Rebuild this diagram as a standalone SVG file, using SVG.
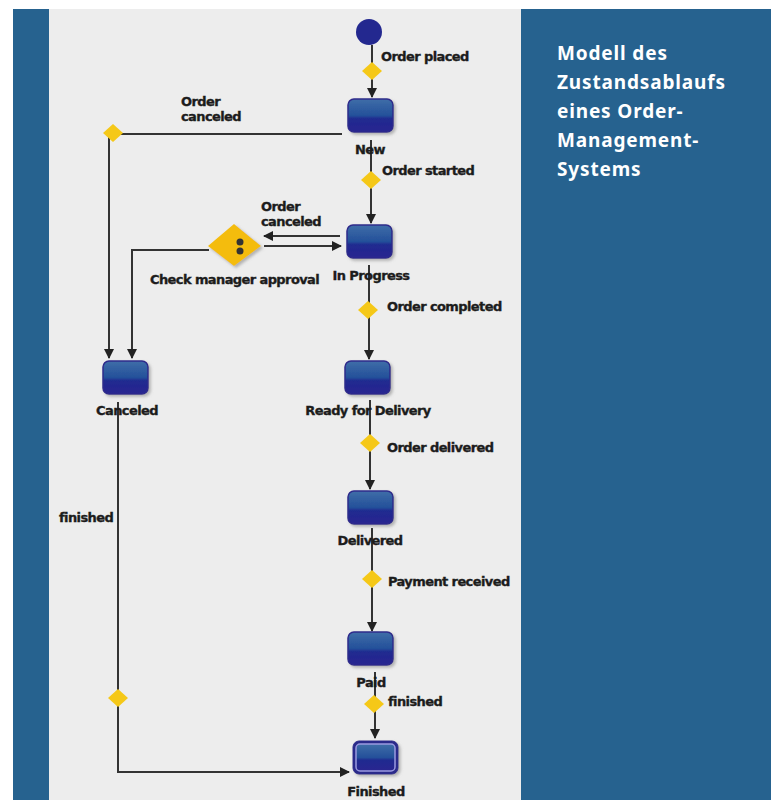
<svg xmlns="http://www.w3.org/2000/svg" width="771" height="800" viewBox="0 0 771 800">
<style>
.l{font:bold 13px "DejaVu Sans",sans-serif;fill:#1c1c1c;letter-spacing:-0.6px;stroke:#1c1c1c;stroke-width:.35px}
.m{text-anchor:middle}
.t{font:bold 19px "Noto Sans","Liberation Sans",sans-serif;fill:#fff;letter-spacing:.85px}
.c{fill:none;stroke:#333;stroke-width:2}
.d{fill:#f5c818}
.s{fill:url(#g);stroke:#2e2a8c;stroke-width:1.5;filter:url(#sh)}
</style>
<defs>
<linearGradient id="g" x1="0" y1="0" x2="0" y2="1"><stop offset="0" stop-color="#3f6ea8"/><stop offset=".5" stop-color="#24509a"/><stop offset=".6" stop-color="#1f2a90"/><stop offset="1" stop-color="#2a2590"/></linearGradient>
<filter id="sh" x="-20%" y="-20%" width="150%" height="150%"><feDropShadow dx="2" dy="2" stdDeviation="1.5" flood-color="#888" flood-opacity=".6"/></filter>
<marker id="a" markerWidth="10" markerHeight="10" refX="9" refY="5" orient="auto" markerUnits="userSpaceOnUse"><path d="M0 0L10 5L0 10Z" fill="#222"/></marker>
</defs>
<rect x="13" y="9" width="758" height="791" fill="#26628f"/>
<rect x="49" y="9" width="472" height="791" fill="#ededed"/>
<g id="connectors">
<path class="c" d="M372 45V97" marker-end="url(#a)"/>
<path class="c" d="M342 134H109V358" marker-end="url(#a)"/>
<path class="c" d="M371 140V223" marker-end="url(#a)"/>
<path class="c" d="M340 236H264" marker-end="url(#a)"/>
<path class="c" d="M264 246H341" marker-end="url(#a)"/>
<path class="c" d="M209 250H132V358" marker-end="url(#a)"/>
<path class="c" d="M369 265V359" marker-end="url(#a)"/>
<path class="c" d="M370 400V489" marker-end="url(#a)"/>
<path class="c" d="M372 528V631" marker-end="url(#a)"/>
<path class="c" d="M375 672V738" marker-end="url(#a)"/>
<path class="c" d="M118 402V772H349" marker-end="url(#a)"/>
<g class="d">
<path d="M372 62L382 71L372 80L362 71Z"/>
<path d="M113 124L123 133L113 142L103 133Z"/>
<path d="M371 171L381 180L371 189L361 180Z"/>
<path d="M368 301L378 310L368 319L358 310Z"/>
<path d="M370 434L380 443L370 452L360 443Z"/>
<path d="M372 570L382 579L372 588L362 579Z"/>
<path d="M374 695L384 704L374 713L364 704Z"/>
<path d="M118 689L128 698L118 707L108 698Z"/>
</g>
</g>
<g id="start"><circle cx="369" cy="32" r="13" fill="#23288f"/></g>
<g id="new"><rect class="s" x="348" y="99" width="45" height="33" rx="6"/><text class="l m" x="370" y="154">New</text></g>
<g id="inprogress"><rect class="s" x="347" y="225" width="45" height="33" rx="6"/><text class="l m" x="371" y="280">In Progress</text></g>
<g id="approval"><path d="M234 224L261 246L234 266L208 246Z" fill="#f4bc10" filter="url(#sh)"/><circle cx="240" cy="242" r="3.5" fill="#333"/><circle cx="240" cy="251" r="3.5" fill="#333"/><text class="l" x="150" y="284">Check manager approval</text></g>
<g id="canceled"><rect class="s" x="103" y="361" width="45" height="33" rx="6"/><text class="l m" x="127" y="415">Canceled</text></g>
<g id="ready"><rect class="s" x="345" y="361" width="45" height="33" rx="6"/><text class="l m" x="368" y="415">Ready for Delivery</text></g>
<g id="delivered"><rect class="s" x="348" y="491" width="45" height="33" rx="6"/><text class="l m" x="370" y="545">Delivered</text></g>
<g id="paid"><rect class="s" x="348" y="632" width="45" height="33" rx="6"/><text class="l m" x="371" y="687">Paid</text></g>
<g id="finished"><rect x="353" y="741" width="45" height="33" rx="6" fill="#2a2a8a" stroke="#2e2a8c" filter="url(#sh)"/><rect x="356" y="744" width="39" height="27" rx="4" fill="url(#g)" stroke="#9a9ae0" stroke-width="1.5"/><text class="l m" x="376" y="796">Finished</text></g>
<g id="labels">
<text class="l" x="381" y="61">Order placed</text>
<text class="l" x="181" y="106">Order</text>
<text class="l" x="181" y="121">canceled</text>
<text class="l" x="382" y="175">Order started</text>
<text class="l" x="261" y="211">Order</text>
<text class="l" x="261" y="226">canceled</text>
<text class="l" x="387" y="311">Order completed</text>
<text class="l" x="387" y="452">Order delivered</text>
<text class="l" x="388" y="586">Payment received</text>
<text class="l" x="388" y="706">finished</text>
<text class="l" x="59" y="522">finished</text>
</g>
<g id="title">
<text class="t" x="557" y="60">Modell des</text>
<text class="t" x="557" y="89">Zustandsablaufs</text>
<text class="t" x="557" y="118">eines Order-</text>
<text class="t" x="557" y="147">Management-</text>
<text class="t" x="557" y="176">Systems</text>
</g>
</svg>
